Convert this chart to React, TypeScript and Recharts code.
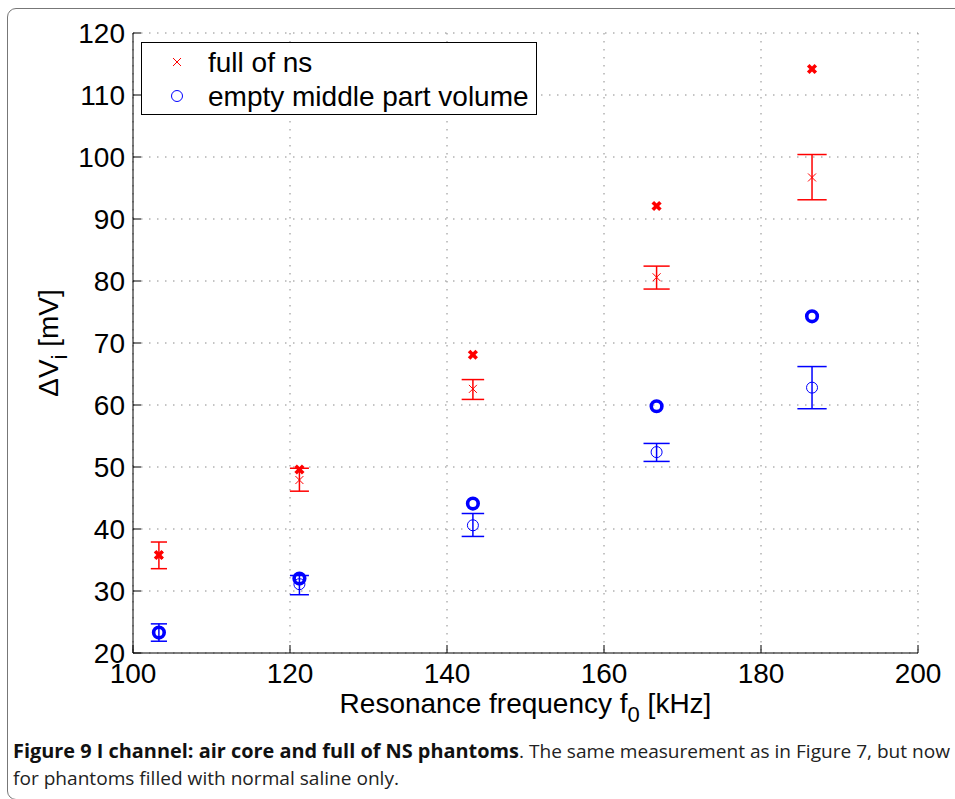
/**
 * ResonanceChart - I channel: air core and full of NS phantoms
 * Delta V_i vs resonance frequency, single shots + mean with error bars
 */
import {
  ScatterChart,
  Scatter,
  XAxis,
  YAxis,
  CartesianGrid,
  ReferenceLine,
  Legend,
  Label,
} from 'recharts';

// resonance frequency f0 [kHz]
const freqKHz = [103.3, 121.2, 143.3, 166.7, 186.5];

// full of ns (mV)
const nsSingle = [35.8, 49.6, 68.1, 92.1, 114.2];
const nsMean = [35.8, 47.9, 62.6, 80.6, 96.7];
const nsLow = [33.6, 46.1, 60.9, 78.7, 93.1];
const nsHigh = [37.9, 49.8, 64.1, 82.4, 100.4];

// empty middle part volume (mV)
const emptySingle = [23.3, 32.0, 44.1, 59.8, 74.3];
const emptyMean = [23.3, 31.1, 40.6, 52.4, 62.8];
const emptyLow = [21.9, 29.4, 38.8, 50.9, 59.4];
const emptyHigh = [24.7, 32.5, 42.5, 53.8, 66.2];

const xTicks = [100, 120, 140, 160, 180, 200];
const yTicks = [20, 30, 40, 50, 60, 70, 80, 90, 100, 110, 120];

const legendNames = ['full of ns', 'empty middle part volume'];

const RED = '#ff0000';
const BLUE = '#0000ff';
const FONT = '"Liberation Sans", Arial, Helvetica, sans-serif';
const CAP_FRACTION = 0.01; // errorbar tee half width, relative to x

const toPoints = (ys: number[]) => freqKHz.map((f, i) => ({ f, v: ys[i] }));

// eslint-disable-next-line @typescript-eslint/no-explicit-any
const ThinCross = (p: any) => {
  const d = 4;
  return (
    <g stroke={RED} strokeWidth={1}>
      <line x1={p.cx - d} y1={p.cy - d} x2={p.cx + d} y2={p.cy + d} />
      <line x1={p.cx - d} y1={p.cy + d} x2={p.cx + d} y2={p.cy - d} />
    </g>
  );
};

// eslint-disable-next-line @typescript-eslint/no-explicit-any
const BoldCross = (p: any) => {
  const d = 3.8;
  return (
    <g stroke={RED} strokeWidth={3.6}>
      <line x1={p.cx - d} y1={p.cy - d} x2={p.cx + d} y2={p.cy + d} />
      <line x1={p.cx - d} y1={p.cy + d} x2={p.cx + d} y2={p.cy - d} />
    </g>
  );
};

// eslint-disable-next-line @typescript-eslint/no-explicit-any
const ThinCircle = (p: any) => (
  <circle cx={p.cx} cy={p.cy} r={5.5} fill="none" stroke={BLUE} strokeWidth={1} />
);

// eslint-disable-next-line @typescript-eslint/no-explicit-any
const BoldCircle = (p: any) => (
  <circle cx={p.cx} cy={p.cy} r={5.3} fill="none" stroke={BLUE} strokeWidth={3.6} />
);

// vertical bar + two tees per point, in data coordinates
const errorSegments = (lows: number[], highs: number[]) =>
  freqKHz.flatMap((f, i) => {
    const w = f * CAP_FRACTION;
    return [
      [{ x: f, y: lows[i] }, { x: f, y: highs[i] }],
      [{ x: f - w, y: lows[i] }, { x: f + w, y: lows[i] }],
      [{ x: f - w, y: highs[i] }, { x: f + w, y: highs[i] }],
    ];
  });

// eslint-disable-next-line @typescript-eslint/no-explicit-any
const YTick = ({ x, y, payload }: any) => (
  <g>
    <line x1={x} x2={x + 8} y1={y} y2={y} stroke="#000" />
    <text x={x - 8} y={y} dy="0.36em" textAnchor="end" fontSize={28} fill="#000" fontFamily={FONT}>
      {payload.value}
    </text>
  </g>
);

// eslint-disable-next-line @typescript-eslint/no-explicit-any
const XTick = ({ x, y, payload }: any) => (
  <g>
    <line x1={x} x2={x} y1={y} y2={y - 8} stroke="#000" />
    <text x={x} y={y + 30} textAnchor="middle" fontSize={28} fill="#000" fontFamily={FONT}>
      {payload.value}
    </text>
  </g>
);

// eslint-disable-next-line @typescript-eslint/no-explicit-any
const XTitle = ({ viewBox }: any) => (
  <text
    x={viewBox.x + viewBox.width / 2}
    y={viewBox.y + 60}
    textAnchor="middle"
    fontSize={28}
    fill="#000"
    fontFamily={FONT}
  >
    Resonance frequency f
    <tspan dy={9} fontSize={22}>0</tspan>
    <tspan dy={-9}> [kHz]</tspan>
  </text>
);

// eslint-disable-next-line @typescript-eslint/no-explicit-any
const YTitle = ({ viewBox }: any) => (
  <text
    transform={`translate(58, ${viewBox.y + viewBox.height / 2}) rotate(-90)`}
    textAnchor="middle"
    fontSize={28}
    fill="#000"
    fontFamily={FONT}
  >
    ΔV
    <tspan dy={9} fontSize={22}>i</tspan>
    <tspan dy={-9}> [mV]</tspan>
  </text>
);

// eslint-disable-next-line @typescript-eslint/no-explicit-any
const LegendBox = ({ payload }: any) => {
  const items = (payload || [])
    // eslint-disable-next-line @typescript-eslint/no-explicit-any
    .filter((p: any) => legendNames.includes(p.value))
    // eslint-disable-next-line @typescript-eslint/no-explicit-any
    .sort((a: any, b: any) => legendNames.indexOf(a.value) - legendNames.indexOf(b.value));
  return (
    <svg width={396} height={73} style={{ display: 'block' }}>
      <rect x={0.5} y={0.5} width={395} height={72} fill="#fff" stroke="#000" />
      {/* eslint-disable-next-line @typescript-eslint/no-explicit-any */}
      {items.map((item: any, i: number) => {
        const cy = 20 + i * 34;
        return (
          <g key={item.value}>
            {item.value === legendNames[0] ? (
              <ThinCross cx={36} cy={cy} />
            ) : (
              <ThinCircle cx={36} cy={cy} />
            )}
            <text x={67} y={cy + 10} fontSize={28} fill="#000" fontFamily={FONT}>
              {item.value}
            </text>
          </g>
        );
      })}
    </svg>
  );
};

export default function App() {
  const nsBars = errorSegments(nsLow, nsHigh);
  const emptyBars = errorSegments(emptyLow, emptyHigh);

  return (
    <div
      style={{
        position: 'absolute',
        left: 0,
        top: 0,
        width: 955,
        height: 799,
        overflow: 'hidden',
        background: '#fff',
        fontFamily: FONT,
      }}
    >
      {/* figure frame */}
      <div
        style={{
          position: 'absolute',
          left: 7,
          top: 8,
          width: 980,
          height: 790,
          border: '1px solid #777',
          borderRadius: 9,
        }}
      />

      <div style={{ position: 'absolute', left: 0, top: 0 }}>
        <ScatterChart width={955} height={730} margin={{ top: 33, right: 37, bottom: 27, left: 73 }}>
          <CartesianGrid stroke="#8a8a8a" strokeDasharray="1.5 6.5" />
          <XAxis
            type="number"
            dataKey="f"
            domain={[100, 200]}
            ticks={xTicks}
            height={50}
            tickSize={0}
            tickMargin={0}
            tickLine={false}
            tick={<XTick />}
            axisLine={{ stroke: '#000', strokeWidth: 1 }}
          >
            <Label content={<XTitle />} />
          </XAxis>
          <YAxis
            type="number"
            dataKey="v"
            domain={[20, 120]}
            ticks={yTicks}
            width={60}
            tickSize={0}
            tickMargin={0}
            tickLine={false}
            tick={<YTick />}
            axisLine={{ stroke: '#000', strokeWidth: 1 }}
          >
            <Label content={<YTitle />} />
          </YAxis>

          {nsBars.map((seg, i) => (
            <ReferenceLine key={`ns-${i}`} segment={seg} stroke={RED} strokeWidth={1.5} ifOverflow="visible" />
          ))}
          {emptyBars.map((seg, i) => (
            <ReferenceLine key={`em-${i}`} segment={seg} stroke={BLUE} strokeWidth={1.5} ifOverflow="visible" />
          ))}

          <Scatter
            name={legendNames[0]}
            data={toPoints(nsMean)}
            shape={ThinCross}
            fill={RED}
            legendType="cross"
            isAnimationActive={false}
          />
          <Scatter
            name="full of ns (single)"
            data={toPoints(nsSingle)}
            shape={BoldCross}
            fill={RED}
            legendType="none"
            isAnimationActive={false}
          />
          <Scatter
            name={legendNames[1]}
            data={toPoints(emptyMean)}
            shape={ThinCircle}
            fill={BLUE}
            legendType="circle"
            isAnimationActive={false}
          />
          <Scatter
            name="empty middle part volume (single)"
            data={toPoints(emptySingle)}
            shape={BoldCircle}
            fill={BLUE}
            legendType="none"
            isAnimationActive={false}
          />

          <Legend
            layout="vertical"
            align="center"
            verticalAlign="middle"
            content={<LegendBox />}
            wrapperStyle={{ left: 141, top: 42, width: 397, height: 74 }}
          />
        </ScatterChart>
      </div>

      {/* caption */}
      <svg width={955} height={799} style={{ position: 'absolute', left: 0, top: 0, pointerEvents: 'none' }}>
        <text
          x={13}
          y={758}
          fontSize={19}
          fontWeight="bold"
          fill="#111"
          fontFamily='"Open Sans", sans-serif'
          textLength={506}
          lengthAdjust="spacingAndGlyphs"
        >
          Figure 9 I channel: air core and full of NS phantoms
        </text>
        <text
          x={519}
          y={758}
          fontSize={19}
          fill="#222"
          fontFamily='"Open Sans", sans-serif'
          textLength={431}
          lengthAdjust="spacingAndGlyphs"
        >
          . The same measurement as in Figure 7, but now
        </text>
        <text
          x={13}
          y={785}
          fontSize={19}
          fill="#222"
          fontFamily='"Open Sans", sans-serif'
          textLength={386}
          lengthAdjust="spacingAndGlyphs"
        >
          for phantoms filled with normal saline only.
        </text>
      </svg>
    </div>
  );
}
